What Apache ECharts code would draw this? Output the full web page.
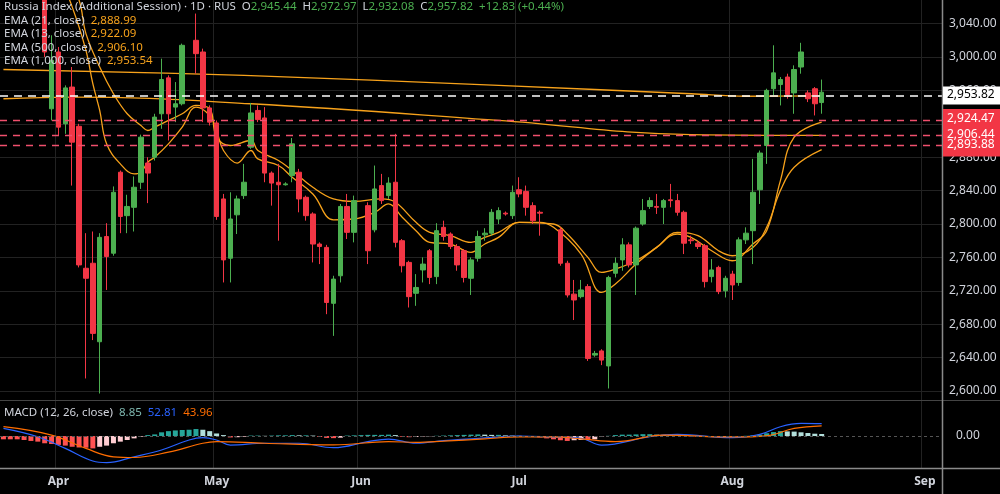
<!DOCTYPE html>
<html>
<head>
<meta charset="utf-8">
<script src="https://cdn.jsdelivr.net/npm/echarts@6/dist/echarts.min.js"></script>
<style>
  html, body { margin: 0; padding: 0; background: #000; }
  #chart { width: 1000px; height: 494px; }
</style>
</head>
<body>
<div id="chart"></div>
<script>
// daily candles, index 0..119 (null = no bar drawn)
const opens = [
  null, null, null, null, null, null, 3075, 2938, 3006, 2920,
  2964, 2917, 2747, 2753, 2659, 2785, 2765, 2862, 2810, 2820,
  2850, 2873, 2880, 2932, 2975, 2940, 2944, null, 3020, 3006,
  2939, 2921, 2830, 2759, 2811, 2834, 2892, 2936, 2927, 2861,
  2850, 2847, 2858, 2862, 2832, 2812, 2776, 2772, 2705, 2738,
  2821, 2790, null, 2822, 2793, 2846, 2834, 2850, 2780, 2754,
  2717, 2745, 2768, 2737, 2796, 2788, 2773, 2768, 2735, 2759,
  2787, 2789, 2806, 2813, 2810, 2841, 2839, 2822, 2814, null,
  null, 2793, 2753, 2716, 2713, 2725, 2643, 2648, 2630, 2741,
  2757, 2775, 2751, 2800, 2821, 2821, 2820, 2829, 2828, 2814,
  2781, 2777, 2774, 2737, 2748, 2720, 2740, 2730, 2781, 2792,
  2841, 2894, 2962, 2967, 2976, 2957, 2988, 2957, 2962, 2945.44
];
const closes = [
  null, null, null, null, null, null, 3006, 2996, 2916, 2963,
  2898, 2751, 2735, 2669, 2784, 2761, 2838, 2809, 2821, 2844,
  2904, 2861, 2928, 2973, 2932, 2944, 3014, null, 3004, 2939,
  2922, 2809, 2757, 2806, 2830, 2850, 2933, 2925, 2861, 2849,
  2847, 2848, 2896, 2830, 2810, 2776, 2773, 2706, 2734, 2821,
  2790, 2828, null, 2768, 2842, 2828, 2849, 2778, 2750, 2713,
  2724, 2752, 2736, 2792, 2785, 2773, 2751, 2736, 2757, 2785,
  2789, 2814, 2816, 2812, 2838, 2836, 2820, 2804, 2813, null,
  null, 2753, 2715, 2709, 2721, 2639, 2645, 2637, 2736, 2753,
  2775, 2751, 2795, 2816, 2828, 2820, 2828, 2828, 2814, 2777,
  2780, 2773, 2731, 2745, 2719, 2735, 2727, 2781, 2789, 2838,
  2885, 2960, 2981, 2973, 2955, 2985, 3006, 2950, 2944, 2957.82
];
const lows = [
  null, null, null, null, null, null, 3000, 2924, 2906, 2908,
  2846, 2748, 2615, 2661, 2597, 2721, 2762, 2789, 2789, 2791,
  2842, 2825, 2876, 2914, 2900, 2922, 2942, null, 2980, 2922,
  2918, 2805, 2730, 2730, 2788, 2830, 2890, 2922, 2850, 2822,
  2780, 2846, 2850, 2814, 2804, 2754, 2752, 2692, 2666, 2730,
  2782, 2778, null, 2752, 2790, 2824, 2830, 2772, 2742, 2700,
  2702, 2730, 2728, 2728, 2780, 2770, 2744, 2730, 2715, 2755,
  2780, 2786, 2800, 2810, 2806, 2832, 2810, 2800, 2786, null,
  null, 2750, 2712, 2685, 2711, 2636, 2641, 2631, 2603, 2736,
  2744, 2748, 2715, 2798, 2818, 2812, 2800, 2820, 2810, 2764,
  2776, 2770, 2724, 2730, 2716, 2712, 2709, 2726, 2776, 2752,
  2824, 2872, 2954, 2942, 2950, 2932, 2980, 2946, 2930, 2932.08
];
const highs = [
  null, null, null, null, null, null, 3090, 3026, 3012, 2966,
  2988, 2920, 2789, 2791, 2789, 2801, 2845, 2864, 2835, 2857,
  2907, 2880, 2932, 2998, 2978, 2970, 3016, null, 3052, 3010,
  2942, 2924, 2836, 2838, 2834, 2872, 2945, 2942, 2940, 2863,
  2872, 2850, 2903, 2866, 2834, 2814, 2778, 2775, 2738, 2824,
  2836, 2834, null, 2826, 2870, 2860, 2856, 2908, 2782, 2756,
  2740, 2760, 2770, 2801, 2804, 2790, 2776, 2770, 2760, 2792,
  2795, 2818, 2820, 2815, 2846, 2856, 2846, 2826, 2816, null,
  null, 2796, 2756, 2733, 2733, 2728, 2648, 2650, 2738, 2760,
  2783, 2778, 2797, 2830, 2832, 2836, 2830, 2848, 2836, 2816,
  2786, 2780, 2776, 2758, 2750, 2738, 2744, 2784, 2796, 2878,
  2888, 2962, 3014, 2976, 2980, 2990, 3017, 2960, 2964, 2972.97
];

// EMA lines as [bar index, value]
const ema13 = [[6,3140],[8,3100],[10,3060],[12,3008],[13,2968],[14,2936],[15,2896],[17,2872],[19,2860],[20,2862],[21,2874],[22,2880],[24,2896],[26,2916],[28,2940],[30,2930],[31,2912],[32,2888],[34,2873],[36,2888],[37,2878],[40,2870],[42,2856],[45,2836],[48,2805],[51,2806],[54,2814],[56,2824],[58,2808],[60,2792],[62,2778],[65,2776],[68,2766],[70,2776],[72,2784],[75,2802],[78,2802],[80,2796],[84,2764],[87,2718],[89,2728],[92,2752],[95,2772],[98,2788],[100,2784],[103,2768],[106,2756],[109,2776],[111,2792],[113,2852],[115,2904],[119,2922.09]];
const ema21 = [[6,3160],[9,3100],[11,3068],[12,3028],[14,2988],[16,2956],[18,2932],[20,2918],[21,2912],[22,2916],[24,2924],[26,2932],[28,2942],[30,2938],[31,2904],[33,2894],[36,2900],[37,2888],[40,2876],[42,2864],[45,2844],[48,2830],[51,2827],[55,2830],[57,2826],[60,2802],[62,2790],[65,2786],[68,2778],[70,2784],[72,2790],[75,2802],[80,2800],[82,2788],[85,2760],[87,2742],[89,2746],[92,2756],[95,2772],[98,2790],[101,2786],[104,2768],[106,2762],[109,2772],[111,2796],[113,2840],[115,2868],[119,2888.99]];
const ema500 = [[0,2950],[10,2952],[36,2944],[72,2924],[100,2907],[119,2906.10]];
const ema1000 = [[0,2985],[35,2978],[72,2966],[100,2956],[108,2953],[119,2953.54]];

// MACD pane
const macdHist = [
  -14, -14, -14, -17, -21, -24, -31, -34, -38, -41,
  -46, -49, -50, -53, -46, -41, -31, -24, -17, -10,
  -3, 4, 7, 16, 21, 24, 26, 27, 30, 27,
  21, 11, 4, -6, -5, -3, 2, 2, 1, 2,
  3, 3, 4, 3, 3, 2, -4, -8, -9, -7,
  2, 3, 4, 5, 5, 5, 6, 4, -3, -5,
  -4, -2, -1, 1, 2, 3, 4, 5, 6, 7,
  6, 5, 5, 3, 2, 1, -2, -4, -6, -10,
  -14, -18, -21, -18, -17, -17, -14, -2, 1, 4,
  6, 6, 7, 8, 8, 6, 5, 3, 2, 1,
  -2, -3, -4, -4, -4, -3, -3, -2, 1, 3,
  6, 12, 17, 21, 20, 19, 16, 13, 10, 8.85
];
const macdLine = [[0,33],[5,-3],[9,-53],[13,-107],[15,-114],[19,-89],[23,-60],[27,-17],[29,-7],[31,-17],[33,-39],[38,-31],[43,-31],[48,-50],[53,-24],[56,-13],[60,-31],[64,-20],[70,-8],[75,0],[80,-5],[84,-10],[87,-39],[94,-3],[98,7],[106,-7],[110,7],[113,40],[116,54],[119,52.81]];
const signalLine = [[0,40],[7,4],[12,-53],[16,-89],[19,-92],[24,-69],[29,-31],[31,-24],[38,-31],[48,-38],[56,-24],[60,-27],[64,-22],[70,-12],[75,-4],[80,-4],[84,-12],[89,-24],[96,4],[106,-4],[111,1],[115,33],[119,43.96]];

const monthTicks = { 8: 'Apr', 31: 'May', 52: 'Jun', 75: 'Jul', 106: 'Aug', 134: 'Sep' };
const barCount = 137;
const lastPrice = 2953.82;
const levels = [2924.47, 2906.44, 2893.88];

const UP = '#4caf50', DOWN = '#f23645', EMA = '#f7a21b';
const FONT = 'Noto Sans';

const categories = [];
for (let i = 0; i < barCount; i++) categories.push(String(i));

const candles = opens.map((o, i) => o === null ? '-' : [o, closes[i], lows[i], highs[i]]);

const histData = macdHist.map((v, i) => {
    const prev = i > 0 ? macdHist[i - 1] : v;
    let color;
    if (v >= 0) color = v >= prev ? '#26a69a' : '#b2dfdb';
    else color = v <= prev ? '#ff5252' : '#ffcdd2';
    return { value: v, itemStyle: { color: color } };
});

const isMonth = (idx) => monthTicks[idx] !== undefined;

function xAxisFor(gridIndex, showLabel) {
    return {
        type: 'category', gridIndex: gridIndex, data: categories, boundaryGap: true,
        axisLine: { show: false }, axisTick: { show: false, alignWithLabel: true, interval: (i) => isMonth(i) },
        axisLabel: {
            show: showLabel, interval: (i) => isMonth(i), formatter: (v, i) => monthTicks[i] || '',
            color: '#d1d4dc', fontSize: 12, fontFamily: FONT, fontWeight: 'bold', margin: 8
        },
        splitLine: { show: true, interval: (i) => isMonth(i), lineStyle: { color: '#222222', width: 1 } }
    };
}

function emaSeries(data, width) {
    return {
        type: 'line', xAxisIndex: 0, yAxisIndex: 0, data: data, smooth: 0.4, symbol: 'none',
        lineStyle: { color: EMA, width: width }, z: 3
    };
}

const chart = echarts.init(document.getElementById('chart'));

chart.setOption({
    backgroundColor: '#000000',
    animation: false,
    grid: [
        { left: -3, top: 0, width: 945, height: 424.4 },
        { left: -3, top: 400, width: 945, height: 68 }
    ],
    xAxis: [xAxisFor(0, false), xAxisFor(1, true)],
    yAxis: [
        {
            type: 'value', gridIndex: 0, position: 'right', min: 2560, max: 3068.26, interval: 40,
            axisLine: { show: false }, axisTick: { show: false },
            axisLabel: {
                color: '#d1d4dc', fontSize: 12, fontFamily: FONT, margin: 7,
                showMinLabel: false, showMaxLabel: false,
                formatter: (v) => v.toLocaleString('en-US', { minimumFractionDigits: 2, maximumFractionDigits: 2 })
            },
            splitLine: { lineStyle: { color: '#222222' }, showMinLine: false, showMaxLine: false }
        },
        {
            type: 'value', gridIndex: 1, position: 'right', min: -137, max: 154.5,
            axisLine: { show: false }, axisTick: { show: false }, axisLabel: { show: false },
            splitLine: { show: false }
        }
    ],
    series: [
        emaSeries(ema1000, 1.3),
        emaSeries(ema500, 1.3),
        emaSeries(ema21, 1.3),
        emaSeries(ema13, 1.3),
        {
            type: 'candlestick', xAxisIndex: 0, yAxisIndex: 0, data: candles, barWidth: 5,
            itemStyle: { color: UP, color0: DOWN, borderColor: UP, borderColor0: DOWN, borderWidth: 1 },
            z: 4,
            markLine: {
                symbol: 'none', silent: true, label: { show: false },
                data: [
                    { yAxis: lastPrice, lineStyle: { color: '#ffffff', type: [8, 6], width: 1.5 } }
                ].concat(levels.map((v) => ({ yAxis: v, lineStyle: { color: '#f0506e', type: [7, 6], width: 1.3 } })))
            }
        },
        {
            type: 'bar', xAxisIndex: 1, yAxisIndex: 1, data: histData, barWidth: 5, z: 2,
            markLine: {
                symbol: 'none', silent: true,
                lineStyle: { color: '#555555', type: [3, 3], width: 1 },
                label: { show: true, position: 'end', formatter: '0.00', color: '#d1d4dc', fontSize: 12, fontFamily: FONT, distance: 14 },
                data: [{ yAxis: 0 }]
            }
        },
        {
            type: 'line', xAxisIndex: 1, yAxisIndex: 1, data: macdLine, smooth: 0.4, symbol: 'none',
            lineStyle: { color: '#2962ff', width: 1.2 }, z: 3
        },
        {
            type: 'line', xAxisIndex: 1, yAxisIndex: 1, data: signalLine, smooth: 0.4, symbol: 'none',
            lineStyle: { color: '#ff6d00', width: 1.2 }, z: 3
        }
    ]
});

// price tags on the right scale and frame lines
const fmt = (v) => v.toLocaleString('en-US', { minimumFractionDigits: 2, maximumFractionDigits: 2 });
const py = (v) => chart.convertToPixel({ yAxisIndex: 0 }, v);
const yLast = py(lastPrice);
const yTop = py(levels[0]), yBot = py(levels[levels.length - 1]);

const txt = (x, y, rich, parts) => ({
    type: 'text', left: x, top: y,
    style: { text: parts, rich: rich, fontFamily: FONT, fontSize: 11.5, fill: '#d1d4dc' }, z: 10
});
const legendRich = {
    l: { fill: '#d1d4dc', fontSize: 11.5, fontFamily: FONT },
    o: { fill: EMA, fontSize: 11.5, fontFamily: FONT },
    g: { fill: UP, fontSize: 11.5, fontFamily: FONT },
    t: { fill: '#7fb8b0', fontSize: 11.5, fontFamily: FONT },
    b: { fill: '#2962ff', fontSize: 11.5, fontFamily: FONT },
    r: { fill: '#ff6d00', fontSize: 11.5, fontFamily: FONT }
};

chart.setOption({
    graphic: [
        { type: 'line', shape: { x1: 0, y1: 400.5, x2: 1000, y2: 400.5 }, style: { stroke: '#444444', lineWidth: 1 }, z: 9 },
        { type: 'line', shape: { x1: 0, y1: 468.5, x2: 1000, y2: 468.5 }, style: { stroke: '#8a8a8a', lineWidth: 1.5 }, z: 9 },
        { type: 'line', shape: { x1: 942.5, y1: 0, x2: 942.5, y2: 494 }, style: { stroke: '#8a8a8a', lineWidth: 1.5 }, z: 9 },
        { type: 'rect', shape: { x: 943, y: yLast - 9, width: 57, height: 18 }, style: { fill: '#ffffff' }, z: 10 },
        { type: 'text', left: 947, top: yLast - 7, style: { text: fmt(lastPrice), fill: '#000000', fontSize: 12, fontFamily: FONT }, z: 11 },
        { type: 'rect', shape: { x: 943, y: yTop - 11, width: 57, height: yBot - yTop + 22 }, style: { fill: '#f23645' }, z: 10 },
        ...levels.map((v) => ({
            type: 'text', left: 947, top: py(v) - 7,
            style: { text: fmt(v), fill: '#ffffff', fontSize: 12, fontFamily: FONT }, z: 11
        })),
        txt(4, 1, legendRich, '{l|Russia Index (Additional Session) · 1D · RUS  O}{g|2,945.44}{l|  H}{g|2,972.97}{l|  L}{g|2,932.08}{l|  C}{g|2,957.82  +12.83 (+0.44%)}'),
        txt(4, 15, legendRich, '{l|EMA (21, close)}  {o|2,888.99}'),
        txt(4, 28, legendRich, '{l|EMA (13, close)}  {o|2,922.09}'),
        txt(4, 42, legendRich, '{l|EMA (500, close)}  {o|2,906.10}'),
        txt(4, 55, legendRich, '{l|EMA (1,000, close)}  {o|2,953.54}'),
        txt(4, 407, legendRich, '{l|MACD (12, 26, close)}  {t|8.85}  {b|52.81}  {r|43.96}')
    ]
});
</script>
</body>
</html>
